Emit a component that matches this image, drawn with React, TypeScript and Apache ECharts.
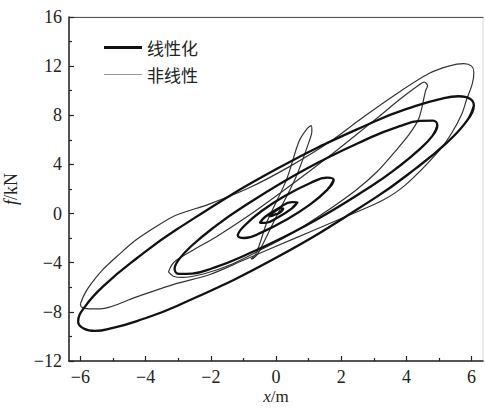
import React, { useEffect, useRef } from "react";
import * as echarts from "echarts";

// ---- Data ----
const xTicks = [-6, -4, -2, 0, 2, 4, 6];
const xMinorTicks = [-5, -3, -1, 1, 3, 5];

// 线性化 (linearised) loops, x in m, f in kN
const linearOuter = [
  [6.07, 8.8], [5.86, 7.57], [5.26, 5.82], [4.29, 3.68], [3.04, 1.28], [0, -3.6],
  [-3.04, -7.52], [-4.29, -8.77], [-5.0, -9.3], [-5.55, -9.55], [-5.9, -9.35], [-6.07, -8.8],
  [-5.86, -7.57], [-5.26, -5.82], [-4.29, -3.68], [-3.04, -1.28], [0, 3.6],
  [3.04, 7.52], [4.29, 8.77], [5.0, 9.3], [5.6, 9.55], [5.95, 9.35], [6.07, 8.8], [5.86, 7.57],
];
const linearMedium = [
  [4.95, 7.17], [4.81, 6.37], [4.41, 5.24], [3.77, 3.83], [2.94, 2.26], [0.92, -0.97],
  [-1.1, -3.58], [-1.93, -4.43], [-2.57, -4.88], [-2.97, -4.91], [-3.11, -4.51],
  [-2.97, -3.71], [-2.57, -2.58], [-1.93, -1.17], [-1.1, 0.4], [0.92, 3.63],
  [2.94, 6.24], [3.77, 7.09], [4.41, 7.54], [4.81, 7.57], [4.95, 7.17], [4.81, 6.37],
];
const linearSmall = [
  [1.77, 2.73], [1.57, 1.93], [1.04, 0.73], [0.3, -0.53], [-0.44, -1.53], [-0.97, -1.99],
  [-1.17, -1.79], [-0.97, -0.99], [-0.44, 0.21], [0.3, 1.47], [1.04, 2.47], [1.57, 2.93],
  [1.77, 2.73], [1.57, 1.93],
];
const linearTiny = [
  [0.66, 0.92], [0.49, 0.43], [0.08, -0.27], [-0.33, -0.75], [-0.5, -0.75], [-0.33, -0.26],
  [0.08, 0.44], [0.49, 0.93], [0.66, 0.92], [0.49, 0.43],
];
const linearTiniest = [
  [0.22, 0.4], [0.1, 0.05], [0, -0.05], [-0.15, -0.2], [-0.22, -0.2], [-0.1, 0.05],
  [0, 0.25], [0.15, 0.45], [0.22, 0.4], [0.1, 0.05],
];

// 非线性 (nonlinear) loops
const nonlinearOuter = [
  [-6.0, -7.35], [-5.9, -6.7], [-5.75, -6.0], [-5.34, -4.64], [-4.8, -3.3], [-4.32, -2.2],
  [-3.7, -1.1], [-3.09, -0.16], [-2.07, 0.75], [-0.82, 2.1], [0.4, 3.8], [1.63, 5.8],
  [2.65, 7.8], [3.67, 9.7], [4.69, 11.4], [5.3, 12.0], [5.76, 12.2], [6.0, 12.0],
  [6.07, 11.5], [6.02, 10.55], [5.85, 9.3], [5.7, 8.1], [5.4, 6.6], [5.0, 5.1], [4.0, 2.4],
  [3.26, 1.06], [2.0, -0.4], [0.5, -2.1], [-1.0, -3.8], [-2.07, -5.0], [-3.09, -5.72],
  [-4.3, -6.8], [-5.39, -7.75], [-5.75, -7.75], [-5.97, -7.6], [-6.0, -7.35],
];
const nonlinearMedium = [
  [-3.3, -4.75], [-3.2, -4.2], [-3.06, -3.8], [-2.5, -2.9], [-1.84, -1.9], [-0.8, -0.1],
  [0.4, 2.2], [1.6, 4.6], [2.5, 6.5], [3.16, 7.9], [3.8, 9.3], [4.3, 10.3], [4.55, 10.7],
  [4.65, 10.4], [4.59, 10.0], [4.39, 7.8], [4.1, 6.5], [3.67, 5.1], [3.1, 3.4], [2.45, 1.9],
  [1.5, 0.1], [0.5, -1.6], [-0.5, -3.0], [-1.34, -4.1], [-2.2, -4.9], [-2.87, -5.2],
  [-3.15, -5.1], [-3.3, -4.75],
];
const nonlinearSpike = [
  [-0.77, -3.7], [-0.6, -3.2], [-0.26, -0.57], [0.31, 2.68], [0.71, 5.9], [0.95, 6.9],
  [1.08, 7.16], [1.1, 6.7], [1.02, 5.9], [0.61, 2.95], [0.0, -0.3], [-0.56, -3.28],
  [-0.7, -3.65], [-0.77, -3.7],
];

const linearLoops = [linearOuter, linearMedium, linearSmall, linearTiny, linearTiniest];
const nonlinearLoops = [nonlinearOuter, nonlinearMedium, nonlinearSpike];

const SERIF = "'Liberation Serif', 'DejaVu Serif', serif";
const CJK = "'Noto Sans CJK SC', sans-serif";

const fmt = (v: number) => (v < 0 ? "\u2212" + Math.abs(v) : String(v));

export default function App() {
  const ref = useRef<HTMLDivElement>(null);

  useEffect(() => {
    if (!ref.current) return;
    const chart = echarts.init(ref.current, undefined, { renderer: "svg" });

    const series: any[] = [];
    nonlinearLoops.forEach((d) =>
      series.push({
        name: "非线性",
        type: "line",
        data: d,
        symbol: "none",
        smooth: 0.3,
        z: 2,
        lineStyle: { color: "#333", width: 1.2 },
        itemStyle: { color: "#333" },
      })
    );
    linearLoops.forEach((d) =>
      series.push({
        name: "线性化",
        type: "line",
        data: d,
        symbol: "none",
        smooth: 0.45,
        z: 3,
        lineStyle: { color: "#111", width: 2.3 },
        itemStyle: { color: "#111" },
      })
    );

    const axisColor = "#222";
    chart.setOption({
      animation: false,
      backgroundColor: "#fff",
      grid: {
        left: 69,
        right: 2,
        top: 17,
        bottom: 47,
        show: true,
        borderColor: "#d8d8d8",
        borderWidth: 1,
        outerBoundsMode: "none",
        containLabel: false,
      },
      legend: {
        orient: "vertical",
        left: 99,
        top: 34,
        itemWidth: 38,
        itemHeight: 14,
        itemGap: 10,
        symbolKeepAspect: true,
        textStyle: { fontFamily: CJK, fontSize: 17, color: "#222" },
        data: [
          { name: "线性化", icon: "path://M0 0H38V3H0Z", itemStyle: { color: "#111" } },
          { name: "非线性", icon: "path://M0 0H38V1.2H0Z", itemStyle: { color: "#999" } },
        ],
      },
      xAxis: [
        {
          type: "value",
          min: -6.35,
          max: 6.35,
          position: "bottom",
          name: "{i|x}/m",
          nameLocation: "middle",
          nameGap: 27,
          nameMoveOverlap: false,
          nameTextStyle: {
            fontFamily: SERIF,
            fontSize: 17,
            lineHeight: 17,
            color: axisColor,
            rich: { i: { fontStyle: "italic", fontFamily: SERIF, fontSize: 17, lineHeight: 17, color: axisColor } },
          },
          axisLine: { show: true, onZero: false, lineStyle: { color: axisColor, width: 1.5 } },
          axisTick: { show: true, inside: true, length: 5, customValues: xTicks, lineStyle: { color: axisColor, width: 1.2 } },
          axisLabel: { customValues: xTicks, formatter: fmt, fontFamily: SERIF, fontSize: 18, lineHeight: 17, color: axisColor, margin: 7 },
          splitLine: { show: false },
        },
        {
          type: "value",
          min: -6.35,
          max: 6.35,
          position: "bottom",
          axisLine: { show: false, onZero: false },
          axisTick: { show: true, inside: true, length: 3, customValues: xMinorTicks, lineStyle: { color: axisColor, width: 1.2 } },
          axisLabel: { show: false },
          splitLine: { show: false },
        },
        {
          type: "value",
          min: -6.35,
          max: 6.35,
          position: "top",
          axisLine: { show: true, onZero: false, lineStyle: { color: "#555", width: 1.2 } },
          axisTick: { show: false },
          axisLabel: { show: false },
          splitLine: { show: false },
        },
      ],
      yAxis: [
        {
          type: "value",
          min: -12,
          max: 16,
          interval: 4,
          name: "{i|f}/kN",
          nameLocation: "middle",
          nameGap: 49,
          nameRotate: 90,
          nameMoveOverlap: false,
          nameTextStyle: {
            fontFamily: SERIF,
            fontSize: 18,
            lineHeight: 18,
            color: axisColor,
            rich: { i: { fontStyle: "italic", fontFamily: SERIF, fontSize: 18, lineHeight: 18, color: axisColor } },
          },
          axisLine: { show: true, onZero: false, lineStyle: { color: axisColor, width: 1.5 } },
          axisTick: { show: true, inside: true, length: 5, lineStyle: { color: axisColor, width: 1.2 } },
          minorTick: { show: true, splitNumber: 2, length: 3, lineStyle: { color: axisColor, width: 1.2 } },
          axisLabel: { formatter: fmt, fontFamily: SERIF, fontSize: 18, color: axisColor, margin: 7 },
          splitLine: { show: false },
          minorSplitLine: { show: false },
        },
      ],
      series,
    });

    return () => chart.dispose();
  }, []);

  return (
    <div
      ref={ref}
      style={{ position: "fixed", left: 0, top: 0, width: 485, height: 408, background: "#fff" }}
    />
  );
}
